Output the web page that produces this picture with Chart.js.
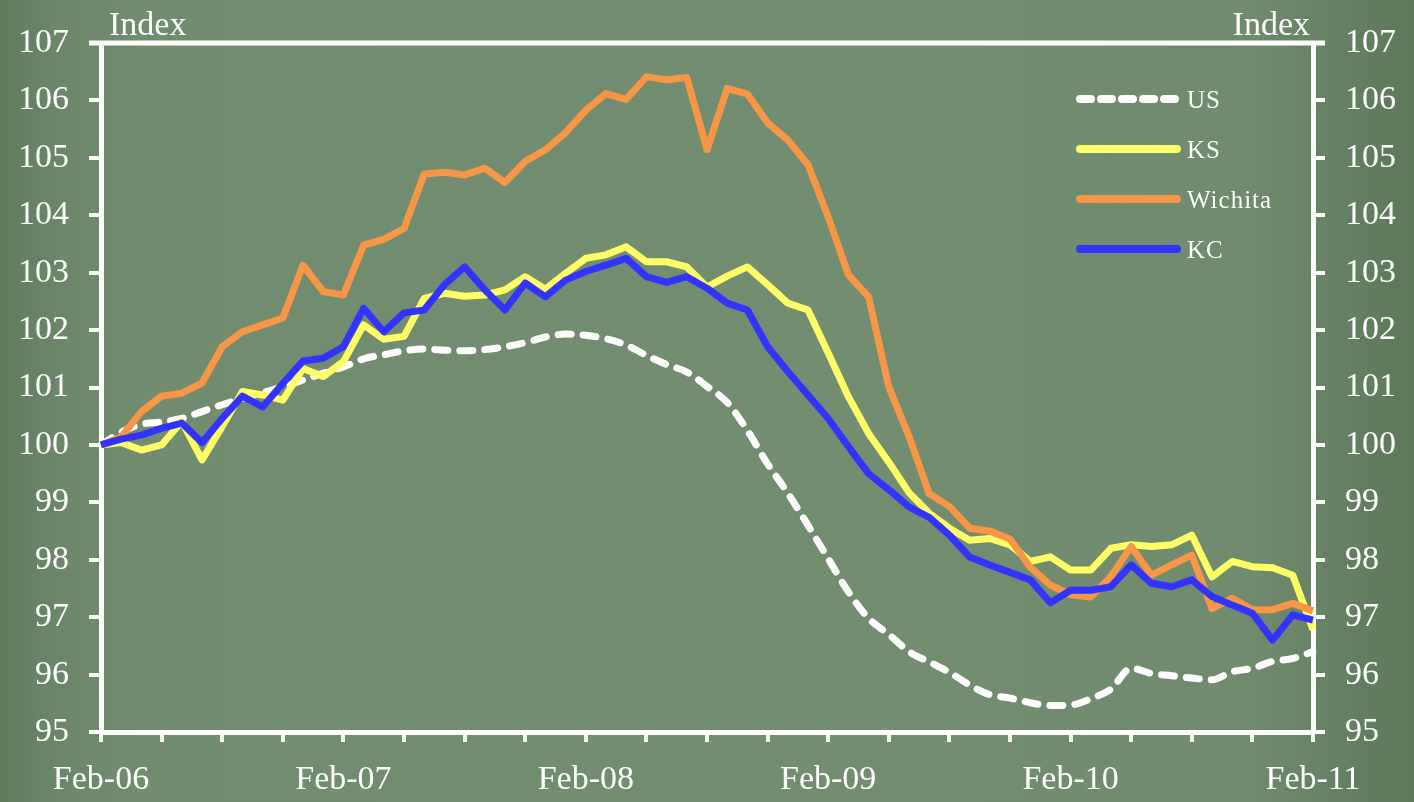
<!DOCTYPE html>
<html>
<head>
<meta charset="utf-8">
<title>House price index</title>
<script src="https://cdn.jsdelivr.net/npm/chart.js@4.4.1/dist/chart.umd.min.js"></script>
<style>
    html, body { margin: 0; padding: 0; }
    #wrap {
        width: 1414px;
        height: 802px;
        position: relative;
        background: linear-gradient(90deg, #5f7b5c 0%, #6b8669 4%, #728c70 10%, #738d71 60%, #708b6e 88%, #5c7859 100%);
    }
</style>
</head>
<body>
<div id="wrap"><canvas id="chart"></canvas></div>
<script>
// Monthly labels, Feb 2006 - Feb 2011
const months = [
    'Feb-06','Mar-06','Apr-06','May-06','Jun-06','Jul-06','Aug-06','Sep-06','Oct-06','Nov-06','Dec-06',
    'Jan-07','Feb-07','Mar-07','Apr-07','May-07','Jun-07','Jul-07','Aug-07','Sep-07','Oct-07','Nov-07','Dec-07',
    'Jan-08','Feb-08','Mar-08','Apr-08','May-08','Jun-08','Jul-08','Aug-08','Sep-08','Oct-08','Nov-08','Dec-08',
    'Jan-09','Feb-09','Mar-09','Apr-09','May-09','Jun-09','Jul-09','Aug-09','Sep-09','Oct-09','Nov-09','Dec-09',
    'Jan-10','Feb-10','Mar-10','Apr-10','May-10','Jun-10','Jul-10','Aug-10','Sep-10','Oct-10','Nov-10','Dec-10',
    'Jan-11','Feb-11'
];

// Index values (Feb-06 = 100)
const usIndex = [
    100.00, 100.22, 100.36, 100.40, 100.46, 100.58, 100.70, 100.81, 100.91, 101.01,
    101.13, 101.25, 101.36, 101.50, 101.57, 101.64, 101.67, 101.65, 101.64, 101.66,
    101.71, 101.78, 101.88, 101.93, 101.91, 101.85, 101.74, 101.56, 101.40, 101.27,
    101.02, 100.74, 100.25, 99.67, 99.16, 98.60, 98.02, 97.44, 96.98, 96.70,
    96.40, 96.22, 96.04, 95.82, 95.65, 95.59, 95.51, 95.46, 95.47, 95.58,
    95.75, 96.11, 96.02, 95.98, 95.94, 95.91, 96.05, 96.11, 96.23, 96.28, 96.40
];
const ksIndex = [
    100.00, 100.04, 99.91, 100.00, 100.41, 99.74, 100.32, 100.93, 100.87, 100.78,
    101.33, 101.19, 101.45, 102.09, 101.84, 101.89, 102.55, 102.64, 102.59, 102.61,
    102.70, 102.93, 102.71, 102.99, 103.25, 103.31, 103.45, 103.19, 103.19, 103.10,
    102.75, 102.94, 103.10, 102.79, 102.47, 102.35, 101.60, 100.84, 100.20, 99.70,
    99.17, 98.81, 98.55, 98.34, 98.37, 98.26, 97.97, 98.05, 97.82, 97.82,
    98.20, 98.26, 98.23, 98.26, 98.43, 97.70, 97.97, 97.88, 97.86, 97.73, 96.78
];
const wichitaIndex = [
    100.00, 100.14, 100.58, 100.85, 100.90, 101.08, 101.71, 101.97, 102.09, 102.21,
    103.13, 102.67, 102.61, 103.48, 103.58, 103.77, 104.72, 104.75, 104.70, 104.82,
    104.57, 104.94, 105.14, 105.44, 105.83, 106.12, 106.02, 106.41, 106.36, 106.40,
    105.14, 106.21, 106.11, 105.61, 105.31, 104.88, 103.97, 102.96, 102.58, 101.01,
    100.15, 99.15, 98.93, 98.55, 98.50, 98.36, 97.87, 97.56, 97.39, 97.35,
    97.71, 98.23, 97.73, 97.91, 98.08, 97.15, 97.33, 97.13, 97.13, 97.24, 97.11
];
const kcIndex = [
    100.00, 100.10, 100.17, 100.29, 100.38, 100.04, 100.46, 100.85, 100.66, 101.07,
    101.46, 101.51, 101.71, 102.38, 101.97, 102.30, 102.35, 102.79, 103.10, 102.70,
    102.35, 102.82, 102.58, 102.87, 103.02, 103.13, 103.25, 102.93, 102.83, 102.93,
    102.73, 102.47, 102.35, 101.71, 101.28, 100.87, 100.46, 99.97, 99.50, 99.22,
    98.92, 98.74, 98.43, 98.05, 97.91, 97.78, 97.65, 97.25, 97.47, 97.47,
    97.53, 97.91, 97.59, 97.53, 97.65, 97.36, 97.21, 97.07, 96.60, 97.04, 96.95
];

const Y_MIN = 95;
const Y_MAX = 107;
const FONT = "'Liberation Serif', 'Times New Roman', serif";
const WHITE = '#ffffff';

// Top border, "Index" captions and the in-plot legend
const decorations = {
    id: 'decorations',
    afterDraw(chart) {
        const { ctx, chartArea } = chart;
        ctx.save();

        // frame line along the top
        ctx.strokeStyle = WHITE;
        ctx.lineWidth = 5;
        ctx.beginPath();
        ctx.moveTo(chartArea.left - 12, chartArea.top);
        ctx.lineTo(chartArea.right + 12, chartArea.top);
        ctx.stroke();

        // axis captions
        ctx.fillStyle = WHITE;
        ctx.font = '34px ' + FONT;
        ctx.textBaseline = 'alphabetic';
        ctx.textAlign = 'left';
        ctx.fillText('Index', chartArea.left + 8, 35);
        ctx.textAlign = 'right';
        ctx.fillText('Index', chartArea.right - 3, 35);

        // legend
        const x0 = chartArea.right - 233;
        const x1 = chartArea.right - 136;
        chart.data.datasets.forEach((ds, i) => {
            const y = 99 + i * 50;
            ctx.strokeStyle = ds.borderColor;
            ctx.lineWidth = 8;
            ctx.lineCap = 'round';
            ctx.setLineDash(ds.borderDash ? [11, 10] : []);
            ctx.beginPath();
            ctx.moveTo(x0, y);
            ctx.lineTo(x1, y);
            ctx.stroke();
            ctx.setLineDash([]);
            ctx.fillStyle = WHITE;
            ctx.font = '25px ' + FONT;
            ctx.letterSpacing = '1px';
            ctx.textAlign = 'left';
            ctx.textBaseline = 'middle';
            ctx.fillText(ds.label, x1 + 10, y + 2);
        });
        ctx.restore();
    }
};

const yAxis = (position) => ({
    position: position,
    min: Y_MIN,
    max: Y_MAX,
    afterFit: (scale) => { scale.width = 101; },
    ticks: {
        stepSize: 1,
        color: WHITE,
        padding: 20,
        font: { family: FONT, size: 34 }
    },
    grid: {
        drawOnChartArea: false,
        drawTicks: true,
        tickLength: 12,
        color: WHITE,
        lineWidth: 4
    },
    border: { display: true, color: WHITE, width: 5 }
});

const line = (label, data, color, order, extra) => Object.assign({
    label: label,
    data: data,
    borderColor: color,
    backgroundColor: color,
    borderWidth: 7,
    pointRadius: 0,
    tension: 0,
    fill: false,
    order: order,
    borderJoinStyle: 'round'
}, extra || {});

new Chart(document.getElementById('chart'), {
    type: 'line',
    data: {
        labels: months,
        datasets: [
            line('US', usIndex, WHITE, 4, {
                borderDash: [13, 12],
                borderCapStyle: 'round',
                cubicInterpolationMode: 'monotone'
            }),
            line('KS', ksIndex, '#ffff66', 3),
            line('Wichita', wichitaIndex, '#f79646', 2),
            line('KC', kcIndex, '#3333ff', 1)
        ]
    },
    options: {
        responsive: true,
        maintainAspectRatio: false,
        animation: false,
        layout: { padding: { top: 43, left: 0, right: 0, bottom: 0 } },
        plugins: {
            legend: { display: false },
            tooltip: { enabled: false }
        },
        scales: {
            x: {
                offset: false,
                afterFit: (scale) => { scale.height = 70; },
                ticks: {
                    autoSkip: false,
                    maxRotation: 0,
                    color: WHITE,
                    padding: 18,
                    font: { family: FONT, size: 34 },
                    callback: function (value, index) {
                        return index % 12 === 0 ? this.getLabelForValue(value) : '';
                    }
                },
                grid: {
                    drawOnChartArea: false,
                    drawTicks: true,
                    tickLength: 10,
                    lineWidth: 4,
                    color: (ctx) => ctx.index % 3 === 0 ? WHITE : 'rgba(0,0,0,0)'
                },
                border: { display: true, color: WHITE, width: 5 }
            },
            y: yAxis('left'),
            y2: yAxis('right')
        }
    },
    plugins: [decorations]
});
</script>
</body>
</html>
